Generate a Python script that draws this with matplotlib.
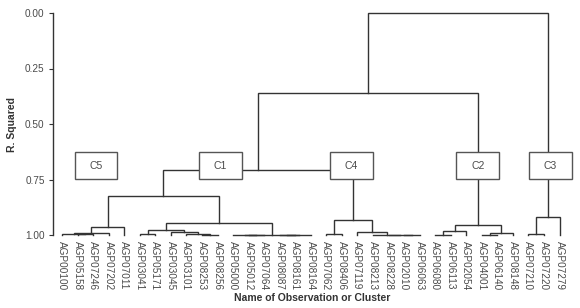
import matplotlib
matplotlib.use("Agg")
import matplotlib.pyplot as plt
from matplotlib.patches import Rectangle
from matplotlib import font_manager

# leaf order along the x axis
leaves = ["AGP00100", "AGP05158", "AGP07246", "AGP07202", "AGP07011",
          "AGP03041", "AGP05171", "AGP03045", "AGP03101", "AGP08253",
          "AGP08256", "AGP05000", "AGP05012", "AGP07064", "AGP08087",
          "AGP08161", "AGP08164", "AGP07062", "AGP08406", "AGP07119",
          "AGP08213", "AGP08228", "AGP02010", "AGP06063", "AGP06080",
          "AGP06113", "AGP02054", "AGP04001", "AGP06140", "AGP08148",
          "AGP07210", "AGP07220", "AGP07279"]

# merges: (new cluster, left, right, R-squared at the join)
merges = [
    ("m1", "AGP05158", "AGP07246", 0.997),
    ("m2", "AGP00100", "m1", 0.994),
    ("m3", "m2", "AGP07202", 0.990),
    ("C5", "m3", "AGP07011", 0.964),
    ("a1", "AGP03041", "AGP05171", 0.997),
    ("a2", "AGP08253", "AGP08256", 0.998),
    ("a3", "AGP03101", "a2", 0.994),
    ("a4", "AGP03045", "a3", 0.986),
    ("a5", "a1", "a4", 0.977),
    ("b1", "AGP05012", "AGP07064", 1.0),
    ("b2", "AGP05000", "b1", 1.0),
    ("b3", "AGP08087", "AGP08161", 1.0),
    ("b4", "b3", "AGP08164", 1.0),
    ("b5", "b2", "b4", 1.0),
    ("C1", "a5", "b5", 0.946),
    ("c1", "AGP07062", "AGP08406", 0.997),
    ("c2", "AGP02010", "AGP06063", 1.0),
    ("c3", "AGP08228", "c2", 1.0),
    ("c4", "AGP08213", "c3", 1.0),
    ("c5", "AGP07119", "c4", 0.988),
    ("C4", "c1", "c5", 0.932),
    ("d1", "AGP06080", "AGP06113", 1.0),
    ("d2", "d1", "AGP02054", 0.982),
    ("d3", "AGP04001", "AGP06140", 0.998),
    ("d4", "d3", "AGP08148", 0.993),
    ("C2", "d2", "d4", 0.955),
    ("e1", "AGP07210", "AGP07220", 0.997),
    ("C3", "e1", "AGP07279", 0.917),
    ("f1", "C5", "C1", 0.824),
    ("f2", "f1", "C4", 0.707),
    ("f3", "f2", "C2", 0.360),
    ("root", "f3", "C3", 0.0),
]

cluster_labels = ["C5", "C1", "C4", "C2", "C3"]
yticks = [0.0, 0.25, 0.5, 0.75, 1.0]

# fonts
names = {f.name for f in font_manager.fontManager.ttflist}
narrow = "Liberation Sans Narrow" if "Liberation Sans Narrow" in names else "Liberation Sans"
plt.rcParams['font.family'] = ['Liberation Sans', 'DejaVu Sans']

line_col = "#333333"
text_col = "#4a4a4a"

fig = plt.figure(figsize=(5.8, 3.08), dpi=100)
ax = fig.add_axes([53/580, 1 - 235/308, (572-53)/580, (235-13)/308])

xpos = {name: i for i, name in enumerate(leaves)}
hpos = {name: 1.0 for name in leaves}

for name, left, right, h in merges:
    xl, xr = xpos[left], xpos[right]
    ax.plot([xl, xl, xr, xr], [hpos[left], h, h, hpos[right]],
            color=line_col, lw=1.0, clip_on=False, solid_joinstyle='miter')
    xpos[name] = (xl + xr) / 2
    hpos[name] = h

# cluster boxes
box_shift = {"C5": -0.75, "C1": 0.1, "C4": -0.1, "C3": 0.15}
for lab in cluster_labels:
    cx = xpos[lab] + box_shift.get(lab, 0)
    ax.add_patch(Rectangle((cx - 1.38, 0.626), 2.76, 0.122, facecolor="white",
                           edgecolor="#555555", lw=1.0, zorder=3, clip_on=False))
    ax.text(cx, 0.687, lab, ha="center", va="center", fontsize=7.5,
            color=text_col, zorder=4)

ax.set_xlim(-0.58, 32.8)
ax.set_ylim(1.0, 0.0)
ax.set_yticks(yticks)
ax.set_yticklabels(["%.2f" % v for v in yticks], fontsize=7.2, color=text_col)
ax.set_xticks(range(len(leaves)))
ax.set_xticklabels(leaves, rotation=-90, fontsize=7.2, color=text_col, va="top")
ax.tick_params(axis="x", length=0, pad=4)
ax.tick_params(axis="y", length=3, width=0.8, pad=3, color=line_col)

for s in ["top", "right", "bottom"]:
    ax.spines[s].set_visible(False)
ax.spines["left"].set_color(line_col)
ax.spines["left"].set_linewidth(1.0)

ax.set_ylabel("R. Squared", fontsize=7.5, fontweight="bold", family=[narrow, 'DejaVu Sans'],
              color="#333333", labelpad=6)
ax.set_xlabel("Name of Observation or Cluster", fontsize=7.5, fontweight="bold",
              family=[narrow, 'DejaVu Sans'], color="#333333", labelpad=2)

fig.savefig("out.png", dpi=100)
